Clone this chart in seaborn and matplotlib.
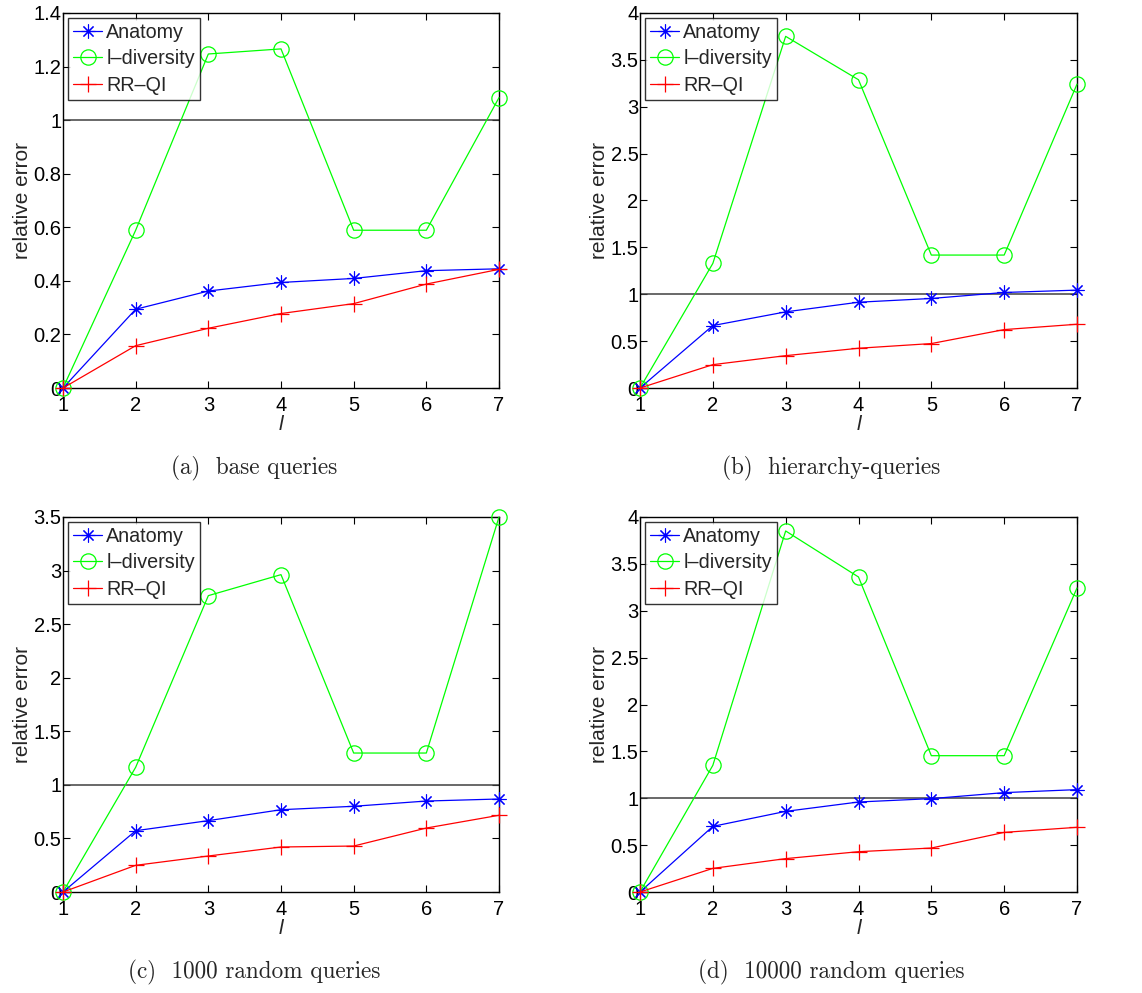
import matplotlib
matplotlib.use("Agg")
import matplotlib.pyplot as plt
import seaborn as sns
import pandas as pd

l_values = [1, 2, 3, 4, 5, 6, 7]
series_names = ["Anatomy", "l\u2013diversity", "RR\u2013QI"]

# (a) base queries
a_anatomy = [0.0, 0.294, 0.362, 0.394, 0.409, 0.438, 0.445]
a_ldiv = [0.0, 0.589, 1.247, 1.266, 0.589, 0.589, 1.084]
a_rrqi = [0.0, 0.158, 0.223, 0.278, 0.315, 0.388, 0.443]

# (b) hierarchy-queries
b_anatomy = [0.0, 0.666, 0.812, 0.915, 0.955, 1.019, 1.044]
b_ldiv = [0.0, 1.329, 3.751, 3.288, 1.418, 1.418, 3.241]
b_rrqi = [0.0, 0.249, 0.345, 0.424, 0.474, 0.623, 0.680]

# (c) 1000 random queries
c_anatomy = [0.0, 0.572, 0.666, 0.768, 0.800, 0.849, 0.868]
c_ldiv = [0.0, 1.164, 2.766, 2.962, 1.297, 1.297, 3.50]
c_rrqi = [0.0, 0.249, 0.336, 0.420, 0.429, 0.597, 0.716]

# (d) 10000 random queries
d_anatomy = [0.0, 0.700, 0.860, 0.960, 0.996, 1.060, 1.092]
d_ldiv = [0.0, 1.351, 3.851, 3.360, 1.454, 1.454, 3.243]
d_rrqi = [0.0, 0.252, 0.356, 0.430, 0.469, 0.636, 0.690]

captions = ["(a)  base queries", "(b)  hierarchy-queries",
            "(c)  1000 random queries", "(d)  10000 random queries"]
y_limits = [1.4, 4, 3.5, 4]
y_ticks = [[0, 0.2, 0.4, 0.6, 0.8, 1, 1.2, 1.4],
           [0, 0.5, 1, 1.5, 2, 2.5, 3, 3.5, 4],
           [0, 0.5, 1, 1.5, 2, 2.5, 3, 3.5],
           [0, 0.5, 1, 1.5, 2, 2.5, 3, 3.5, 4]]
y_ticklabels = [["0", "0.2", "0.4", "0.6", "0.8", "1", "1.2", "1.4"],
                ["0", "0.5", "1", "1.5", "2", "2.5", "3", "3.5", "4"],
                ["0", "0.5", "1", "1.5", "2", "2.5", "3", "3.5"],
                ["0", "0.5", "1", "1.5", "2", "2.5", "3", "3.5", "4"]]
panels = [(a_anatomy, a_ldiv, a_rrqi), (b_anatomy, b_ldiv, b_rrqi),
          (c_anatomy, c_ldiv, c_rrqi), (d_anatomy, d_ldiv, d_rrqi)]

sns.set_theme(style="white")
plt.rcParams['font.family'] = ['Liberation Sans', 'DejaVu Sans']

W, H = 1142, 993
fig = plt.figure(figsize=(W / 100, H / 100), dpi=100)

# axes rectangles in pixels: left, right, top, bottom
rects = [(63, 499, 13, 388), (640, 1077, 13, 388),
         (63, 499, 517, 892), (640, 1077, 517, 892)]
caption_pos = [(254, 468), (831, 468), (254, 972), (831, 972)]

styles = [
    dict(color=(0, 0, 1), marker=(8, 2, 0), markersize=10, markeredgecolor=(0, 0, 1),
         markeredgewidth=0.8),
    dict(color=(0, 1, 0), marker='o', markersize=11, markerfacecolor='none',
         markeredgecolor=(0, 1, 0), markeredgewidth=0.9),
    dict(color=(1, 0, 0), marker='+', markersize=11, markeredgecolor=(1, 0, 0),
         markeredgewidth=0.9),
]

for i, (rect, vals) in enumerate(zip(rects, panels)):
    l, r, t, b = rect
    ax = fig.add_axes([l / W, 1 - b / H, (r - l) / W, (b - t) / H])
    for name, v, st in zip(series_names, vals, styles):
        df = pd.DataFrame({"l": l_values, "err": v})
        sns.lineplot(data=df, x="l", y="err", ax=ax, label=name, linewidth=0.9,
                     clip_on=False, zorder=3, **st)
    ax.axhline(1, color='#404040', linewidth=1.1, zorder=2)
    ax.set_xlim(1, 7)
    ax.set_ylim(0, y_limits[i])
    ax.set_xticks(l_values)
    ax.set_xticklabels([str(v) for v in l_values])
    ax.set_yticks(y_ticks[i])
    ax.set_yticklabels(y_ticklabels[i])
    ax.tick_params(direction='in', length=5, width=0.8, top=True, right=True,
                   bottom=True, left=True, labelsize=14.5, colors='black')
    ax.tick_params(axis='x', pad=6)
    ax.tick_params(axis='y', pad=1)
    for sp in ax.spines.values():
        sp.set_color('black')
        sp.set_linewidth(1.0)
    ax.set_xlabel("l", fontsize=15, fontstyle='italic', labelpad=0)
    ax.set_ylabel("relative error", fontsize=15, labelpad=1)
    leg = ax.legend(loc='upper left', fontsize=14.2, frameon=True, fancybox=False,
                    borderpad=0.25, labelspacing=0.38, handlelength=1.5,
                    handletextpad=0.2, borderaxespad=0.25, edgecolor='black')
    leg.get_frame().set_linewidth(1.0)
    cx, cy = caption_pos[i]
    fig.text(cx / W, 1 - cy / H, captions[i], ha='center', va='center',
             fontsize=16.7, family=['cmr10', 'DejaVu Serif'])

fig.savefig("out.png", dpi=100)
